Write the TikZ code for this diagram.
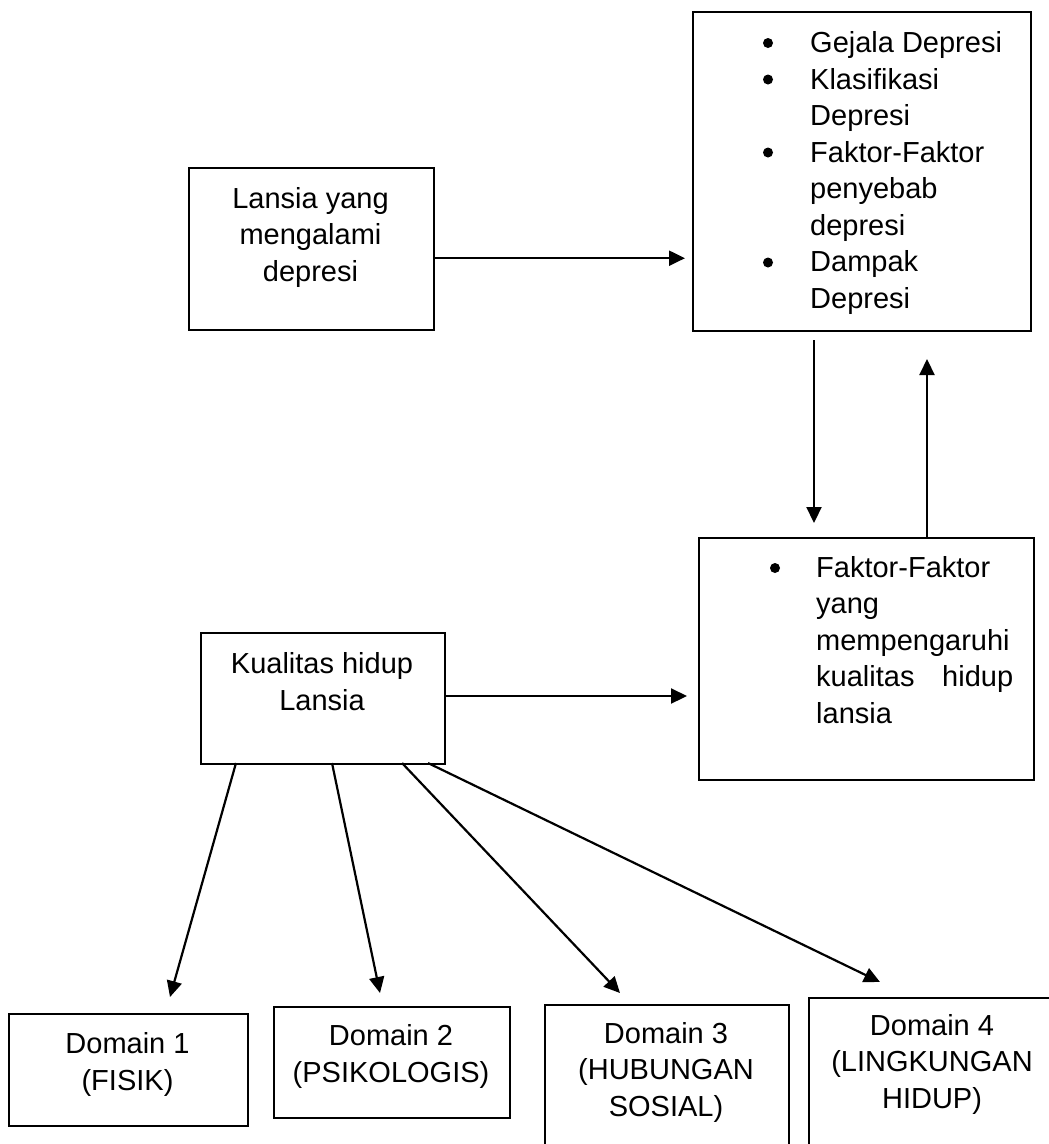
\documentclass[tikz,border=0pt]{standalone}
\usepackage{fontspec}
\setmainfont{Liberation Sans}
\usetikzlibrary{arrows.meta}
\tikzset{
  box/.style={draw=black, line width=2.4pt, anchor=north west, inner sep=0pt},
  txt/.style={font=\fontsize{29}{36.5}\selectfont, inner sep=0pt, anchor=base},
  arr/.style={line width=2.2pt, -{Triangle[length=16pt,width=15pt]}},
  dot/.style={fill=black}
}
\begin{document}
\begin{tikzpicture}[x=1pt,y=-1pt]
\path[use as bounding box] (0,0) rectangle (1049,1144);
\clip (0,0) rectangle (1049,1144);
% boxes
\node[box, minimum width=245pt, minimum height=162pt] (A) at (188,167) {};
\node[box, minimum width=338pt, minimum height=319pt] (B) at (692,11) {};
\node[box, minimum width=335pt, minimum height=242pt] (C) at (698,537) {};
\node[box, minimum width=244pt, minimum height=131pt] (D) at (200,632) {};
\node[box, minimum width=239pt, minimum height=112pt] (D1) at (8,1013) {};
\node[box, minimum width=236pt, minimum height=111pt] (D2) at (273,1006) {};
\node[box, minimum width=244pt, minimum height=160pt] (D3) at (544,1004) {};
\node[box, minimum width=248pt, minimum height=170pt] (D4) at (808,997) {};
% texts (base anchor = last line baseline; with text width = first line)
\node[txt, align=center] (tA) at (310.5,281) {Lansia yang\\mengalami\\depresi};
\node[txt, align=left, anchor=base west] (tB) at (810,308) {Gejala Depresi\\Klasifikasi\\Depresi\\Faktor-Faktor\\penyebab\\depresi\\Dampak\\Depresi};
\node[txt, align=left, anchor=base west, text width=197pt] (tC) at (816,577) {Faktor-Faktor\\yang\\mempengaruhi\\kualitas\hfill hidup\\lansia};
\node[txt, align=center] (tD) at (322,710) {Kualitas hidup\\Lansia};
\node[txt, align=center] (t1) at (127.5,1090) {Domain 1\\(FISIK)};
\node[txt, align=center] (t2) at (391,1082) {Domain 2\\(PSIKOLOGIS)};
\node[txt, align=center] (t3) at (666,1116) {Domain 3\\(HUBUNGAN\\SOSIAL)};
\node[txt, align=center] (t4) at (932,1108) {Domain 4\\(LINGKUNGAN\\HIDUP)};
% bullets
\fill[dot] (768,43) circle (5pt);
\fill[dot] (768,79.5) circle (5pt);
\fill[dot] (768,152.5) circle (5pt);
\fill[dot] (768,262.5) circle (5pt);
\fill[dot] (775,568) circle (5pt);
% connectors
\draw[arr, shorten >=7pt] ([yshift=-9pt]A.east) -- ([yshift=-9pt]A.east -| B.west);
\coordinate (Bd) at (814,330);
\coordinate (Cd) at (814,537);
\draw[arr, shorten <=10pt, shorten >=14pt] (Bd) -- (Cd);
\coordinate (Cu) at (927,537);
\coordinate (Bu) at (927,330);
\draw[arr, shorten >=29pt] (Cu) -- (Bu);
\draw[arr, shorten >=11pt] ([yshift=-64pt]D.north east) -- ([yshift=-64pt]D.north east -| C.west);
\coordinate (s1) at (236,763);
\coordinate (s2) at (332,763);
\coordinate (s3) at (402,763);
\coordinate (s4) at (428,763);
\coordinate (e1) at (170,997);
\coordinate (e2) at (380,993);
\coordinate (e3) at (620,993);
\coordinate (e4) at (880,982);
\draw[arr] (s1) -- (e1);
\draw[arr] (s2) -- (e2);
\draw[arr] (s3) -- (e3);
\draw[arr] (s4) -- (e4);
\end{tikzpicture}
\end{document}
